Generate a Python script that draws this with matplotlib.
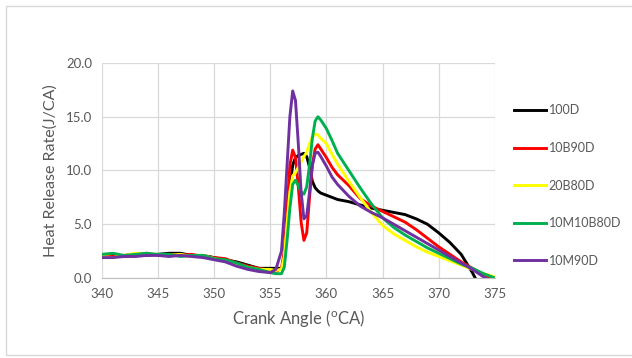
import matplotlib
matplotlib.use('Agg')
import matplotlib.pyplot as plt
from matplotlib.patches import Rectangle

plt.rcParams['font.family'] = ['Lato', 'DejaVu Sans']
plt.rcParams['mathtext.fontset'] = 'custom'
plt.rcParams['mathtext.rm'] = 'Lato'

# crank angle samples (deg CA)
angle = [340, 341, 342, 343, 344, 345, 346, 347, 348, 349, 350, 351, 352, 353, 354, 355,
         355.5, 356, 356.25, 356.5, 356.75, 357, 357.25, 357.5, 357.75, 358, 358.25,
         358.5, 358.75, 359, 359.25, 359.5, 360, 360.5, 361, 362, 363, 364, 365, 366,
         367, 368, 369, 370, 371, 372, 373, 374, 375]

hrr_100D = [2.0, 2.1, 2.0, 2.2, 2.1, 2.2, 2.3, 2.3, 2.1, 2.1, 1.9, 1.7, 1.5, 1.2, 0.9, 0.9,
            0.9, 0.9, 1.5, 4.5, 8.5, 10.5, 11.2, 11.4, 11.5, 11.6, 11.3,
            10.3, 9.0, 8.4, 8.1, 7.9, 7.7, 7.5, 7.3, 7.1, 6.8, 6.5, 6.3, 6.1,
            5.9, 5.5, 5.0, 4.2, 3.3, 2.2, 0.5, -1.5, -3.5]

hrr_10B90D = [2.1, 2.0, 2.1, 2.2, 2.3, 2.1, 2.2, 2.1, 2.2, 2.0, 1.9, 1.8, 1.4, 1.1, 0.9, 0.7,
              0.6, 0.9, 2.5, 6.5, 10.5, 11.9, 11.2, 8.5, 5.2, 3.5, 4.2,
              7.5, 10.5, 12.0, 12.4, 12.0, 11.2, 10.3, 9.6, 8.6, 7.4, 6.7, 6.2, 5.7,
              5.2, 4.5, 3.7, 2.9, 2.2, 1.5, 0.9, 0.3, -0.3]

hrr_20B80D = [2.0, 1.9, 2.1, 2.3, 2.2, 2.2, 2.1, 2.2, 2.0, 2.1, 1.8, 1.6, 1.3, 1.0, 0.8, 0.8,
              0.7, 0.8, 2.0, 5.0, 8.0, 9.5, 9.8, 10.3, 10.8, 11.3, 11.7,
              12.5, 13.1, 13.4, 13.3, 13.0, 12.5, 11.5, 10.6, 9.0, 7.5, 6.1, 4.9, 4.1,
              3.5, 2.9, 2.4, 2.0, 1.6, 1.2, 0.8, 0.4, 0.1]

hrr_10M10B80D = [2.2, 2.3, 2.1, 2.2, 2.3, 2.2, 2.2, 2.0, 2.1, 2.1, 1.8, 1.7, 1.4, 1.0, 0.8, 0.5,
                 0.4, 0.4, 1.0, 3.5, 6.5, 8.7, 9.1, 8.6, 8.0, 7.8, 8.5,
                 10.5, 13.0, 14.6, 15.0, 14.7, 13.9, 12.8, 11.6, 10.0, 8.4, 6.9, 5.6, 4.7,
                 4.0, 3.4, 2.8, 2.3, 1.8, 1.3, 0.9, 0.4, 0.0]

hrr_10M90D = [1.9, 1.9, 2.0, 2.0, 2.1, 2.1, 2.0, 2.1, 2.0, 1.9, 1.7, 1.5, 1.1, 0.8, 0.6, 0.5,
              0.8, 2.5, 6.0, 10.5, 15.0, 17.4, 16.5, 12.5, 8.0, 5.5, 5.8,
              8.0, 10.5, 11.6, 11.7, 11.3, 10.4, 9.4, 8.7, 7.6, 6.7, 6.1, 5.6, 5.0,
              4.4, 3.8, 3.2, 2.6, 2.0, 1.4, 0.8, 0.1, -0.5]

labels = ['100D', '10B90D', '20B80D', '10M10B80D', '10M90D']
colors = ['#000000', '#FF0000', '#FFFF00', '#00B050', '#7030A0']
series = [hrr_100D, hrr_10B90D, hrr_20B80D, hrr_10M10B80D, hrr_10M90D]

xticks = [340, 345, 350, 355, 360, 365, 370, 375]
yticks = [0, 5, 10, 15, 20]

fig = plt.figure(figsize=(6.32, 3.58), dpi=100)
ax = fig.add_axes([0.161, 0.2235, 0.622, 0.6005])

for y, lab, c in zip(series, labels, colors):
    ax.plot(angle, y, color=c, lw=2.1, label=lab, solid_joinstyle='round')

ax.set_xlim(340, 375)
ax.set_ylim(0, 20)
ax.set_xticks(xticks)
ax.set_yticks(yticks)
ax.set_yticklabels(['%.1f' % v for v in yticks])
ax.grid(True, color='#D9D9D9', lw=0.9)
ax.set_axisbelow(True)
for s in ['top', 'right', 'left']:
    ax.spines[s].set_visible(False)
ax.spines['bottom'].set_color('#BFBFBF')
ax.tick_params(length=0, labelsize=9.5, colors='#595959', pad=7)

ax.set_xlabel(r'Crank Angle ($^{\rm o}$CA)', fontsize=12, color='#595959', labelpad=6)
ax.set_ylabel('Heat Release Rate(J/CA)', fontsize=11.5, color='#595959', labelpad=6)

fig.legend(loc='upper left', bbox_to_anchor=(0.795, 0.74), frameon=False,
           fontsize=9, labelcolor='#595959', handlelength=2.6, handletextpad=0.2,
           labelspacing=2.05)

fig.patches.append(Rectangle((6 / 632, 3 / 358), 1.0, 349 / 358, transform=fig.transFigure,
                             fill=False, edgecolor='#D9D9D9', lw=1))

fig.savefig('out.png', dpi=100)
